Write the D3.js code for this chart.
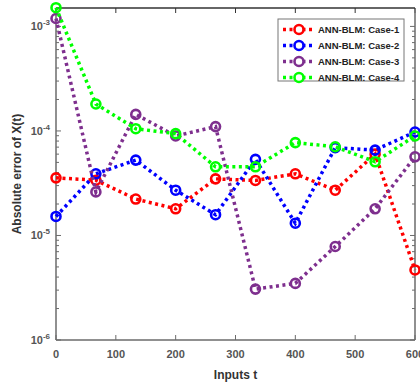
<!DOCTYPE html>
<html><head><meta charset="utf-8">
<script src="https://cdn.jsdelivr.net/npm/d3@7"></script>
<style>body{margin:0;background:#fff}svg{display:block}</style>
</head><body><svg id="c" width="420" height="387"></svg>
<script>
const xValues = [0, 66.67, 133.33, 200, 266.67, 333.33, 400, 466.67, 533.33, 600];
const case1 = [3.56e-5, 3.38e-5, 2.23e-5, 1.80e-5, 3.48e-5, 3.36e-5, 3.89e-5, 2.71e-5, 6.0e-5, 4.68e-6];
const case2 = [1.52e-5, 3.89e-5, 5.26e-5, 2.71e-5, 1.58e-5, 5.35e-5, 1.31e-5, 6.92e-5, 6.56e-5, 9.77e-5];
const case3 = [1.19e-3, 2.61e-5, 1.44e-4, 8.95e-5, 1.10e-4, 3.07e-6, 3.48e-6, 7.84e-6, 1.80e-5, 5.66e-5];
const case4 = [1.51e-3, 1.81e-4, 1.05e-4, 9.42e-5, 4.54e-5, 4.54e-5, 7.73e-5, 7.06e-5, 5.07e-5, 8.95e-5];
const seriesNames = ["ANN-BLM: Case-1", "ANN-BLM: Case-2", "ANN-BLM: Case-3", "ANN-BLM: Case-4"];
const seriesColors = ["#ff0000", "#0000ff", "#7e2f8e", "#00ff00"];
const xTicks = [0, 100, 200, 300, 400, 500, 600];
const yTicks = [1e-6, 1e-5, 1e-4, 1e-3];
const yTickExp = ["-6", "-5", "-4", "-3"];

const seriesData = [case1, case2, case3, case4];
const L = 56, R = 415, T = 8, B = 340;
const svg = d3.select("#c");
const x = d3.scaleLinear().domain([0, 600]).range([L, R]);
const y = d3.scaleLog().domain([1e-6, 1.5e-3]).range([B, T]);
const axisColor = "#6b6b6b";
const font = "Arial, 'Liberation Sans', sans-serif";

// minor ticks
const minor = [];
for (let e = -6; e <= -3; e++) for (let m = 1; m <= 9; m++) { const v = m * Math.pow(10, e); if (v >= 1e-6 && v <= 1.5e-3) minor.push(v); }
const g = svg.append("g");
minor.forEach(v => {
  const len = (yTicks.includes(v)) ? 5 : 3;
  g.append("line").attr("x1", L).attr("x2", L + len).attr("y1", y(v)).attr("y2", y(v)).attr("stroke", axisColor).attr("stroke-width", 1);
  g.append("line").attr("x1", R).attr("x2", R - len).attr("y1", y(v)).attr("y2", y(v)).attr("stroke", axisColor).attr("stroke-width", 1);
});
xTicks.forEach(v => {
  g.append("line").attr("x1", x(v)).attr("x2", x(v)).attr("y1", B).attr("y2", B - 5).attr("stroke", axisColor);
  g.append("line").attr("x1", x(v)).attr("x2", x(v)).attr("y1", T).attr("y2", T + 5).attr("stroke", "#333");
});
// box
g.append("line").attr("x1", L).attr("x2", L).attr("y1", T).attr("y2", B).attr("stroke", axisColor).attr("stroke-width", 1.5);
g.append("line").attr("x1", L).attr("x2", R).attr("y1", B).attr("y2", B).attr("stroke", axisColor).attr("stroke-width", 1.5);
g.append("line").attr("x1", R).attr("x2", R).attr("y1", T).attr("y2", B).attr("stroke", axisColor).attr("stroke-width", 1.5);
g.append("line").attr("x1", L).attr("x2", R).attr("y1", T).attr("y2", T).attr("stroke", "#333").attr("stroke-width", 1.5);

// tick labels
xTicks.forEach(v => {
  svg.append("text").attr("x", x(v)).attr("y", 358).attr("text-anchor", "middle").attr("font-family", font).attr("font-size", 11).attr("font-weight", "bold").attr("fill", "#555").text(v);
});
yTicks.forEach((v, i) => {
  const t = svg.append("text").attr("x", L - 6).attr("y", y(v) + 4).attr("text-anchor", "end").attr("font-family", font).attr("font-size", 11).attr("font-weight", "bold").attr("fill", "#555");
  t.append("tspan").text("10");
  t.append("tspan").attr("dy", -5).attr("font-size", 8).text(yTickExp[i]);
});
// axis labels
svg.append("text").attr("x", x(300)).attr("y", 379).attr("text-anchor", "middle").attr("font-family", font).attr("font-size", 12).attr("font-weight", "bold").attr("fill", "#333").text("Inputs t");
svg.append("text").attr("transform", `translate(21,${(T + B) / 2}) rotate(-90)`).attr("text-anchor", "middle").attr("font-family", font).attr("font-size", 12).attr("font-weight", "bold").attr("fill", "#333").text("Absolute error of X(t)");

// series
const line = d3.line().x((d, i) => x(xValues[i])).y(d => y(d));
seriesData.forEach((s, k) => {
  const sg = svg.append("g");
  sg.append("path").attr("d", line(s)).attr("fill", "none").attr("stroke", seriesColors[k]).attr("stroke-width", 3.5).attr("stroke-dasharray", "3,3.5");
  sg.selectAll("circle").data(s).join("circle").attr("cx", (d, i) => x(xValues[i])).attr("cy", d => y(d)).attr("r", 4.5).attr("fill", "none").attr("stroke", seriesColors[k]).attr("stroke-width", 2.6);
});

// legend
const lg = svg.append("g");
lg.append("rect").attr("x", 278).attr("y", 19).attr("width", 126).attr("height", 62).attr("fill", "#fff").attr("stroke", "#777").attr("stroke-width", 1);
seriesNames.forEach((n, k) => {
  const yy = 29.5 + k * 16;
  lg.append("line").attr("x1", 283).attr("x2", 314).attr("y1", yy).attr("y2", yy).attr("stroke", seriesColors[k]).attr("stroke-width", 3.5).attr("stroke-dasharray", "3,3.5");
  lg.append("circle").attr("cx", 299).attr("cy", yy).attr("r", 4.5).attr("fill", "#fff").attr("stroke", seriesColors[k]).attr("stroke-width", 2.6);
  lg.append("text").attr("x", 318).attr("y", yy + 3.5).attr("font-family", font).attr("font-size", 9.5).attr("font-weight", "bold").attr("fill", "#222").text(n);
});
</script></body></html>
